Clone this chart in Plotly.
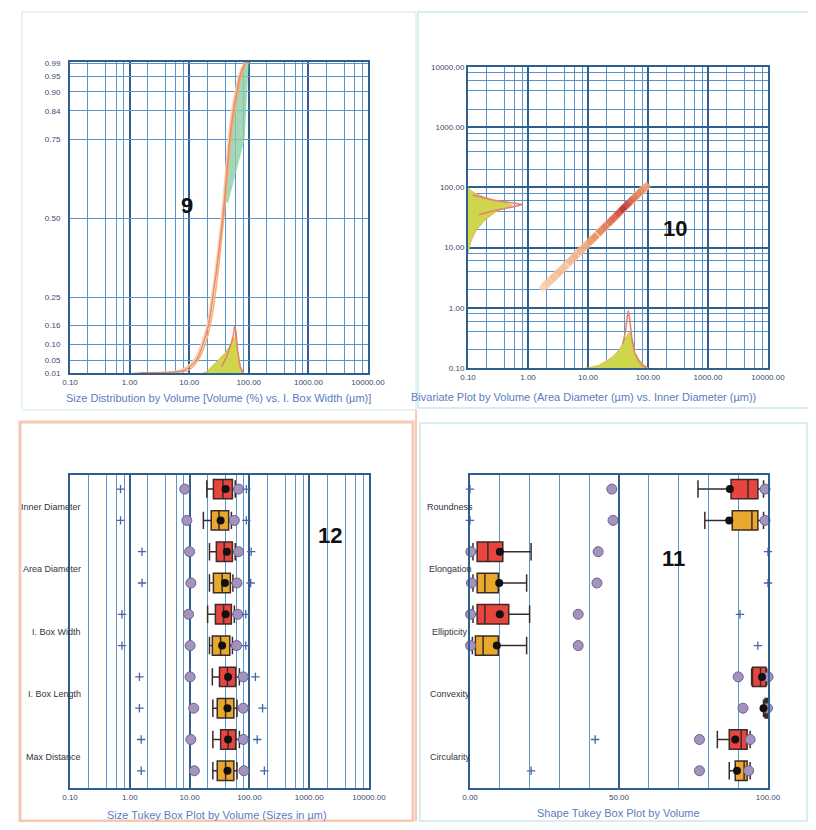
import plotly.graph_objects as go

# The page body keeps its default 8px margin, so an 800x814 figure fills the 816x830 window exactly.
PAGE_W, PAGE_H = 816, 830
W, H = PAGE_W - 16, PAGE_H - 16
def fx(p): return (p - 8) / W
def fy(p): return 1 - (p - 8) / H

FONT = "Liberation Sans, Arial, sans-serif"
NAVY = "#2f5f8f"
GRID = "#5d95c6"
TICKC = "#3a4a6c"
TITLEC = "#5a7cc0"

# ---------------- Panel 9 : cumulative size distribution ----------------
d_levels = [0.01, 0.05, 0.10, 0.16, 0.25, 0.50, 0.75, 0.84, 0.90, 0.95, 0.99, 0.995]
d_labels = ["0.01", "0.05", "0.10", "0.16", "0.25", "0.50", "0.75", "0.84", "0.90", "0.95", "0.99", ""]
cum_frac = [0.011, 0.012, 0.02, 0.05, 0.10, 0.16, 0.25, 0.50, 0.75, 0.84, 0.90, 0.95, 0.99, 0.995]
cum_size_a = [1.5, 5, 8.5, 13, 17, 21, 25, 36.5, 48, 55, 63, 71, 87, 95]
cum_size_b = [2.0, 6, 10, 14, 18.5, 22.5, 27, 38, 50, 58, 66, 75, 90, 98]
cum_size_c = [1.2, 4, 7.5, 12, 16, 20, 24, 35, 46, 52, 60, 68, 84, 92]
band_frac = [0.55, 0.65, 0.75, 0.84, 0.90, 0.95, 0.995]
band_left = [39, 44, 48, 55, 63, 71, 92]
band_right = [45, 62, 85, 90, 94, 97, 100]
hist_size = [10, 15, 20, 27, 33, 40, 46, 52, 56, 60, 65, 71, 80, 92]
hist_vol = [0.0, 0.005, 0.015, 0.04, 0.055, 0.073, 0.09, 0.11, 0.12, 0.125, 0.07, 0.025, 0.01, 0.0]
spike_size = [35, 42, 50, 55, 58, 61, 65, 72, 85]
spike_vol = [0.03, 0.06, 0.10, 0.13, 0.16, 0.14, 0.08, 0.03, 0.0]

# ---------------- Panel 10 : bivariate ----------------
biv_area = [1.8, 2.2, 2.7, 3.3, 4.0, 5.0, 6.0, 7.5, 9, 11, 13, 16, 19, 23, 27, 32, 38, 45, 52, 60, 70, 82, 95]
biv_inner = [2.2, 2.6, 3.2, 3.9, 4.7, 5.9, 7.1, 8.8, 10.5, 12.8, 15, 18.5, 22, 26.5, 31, 37, 44, 52, 60, 68, 79, 92, 104]
biv_dens = [0.1, 0.15, 0.2, 0.25, 0.2, 0.25, 0.3, 0.3, 0.35, 0.45, 0.5, 0.55, 0.6, 0.65, 0.7, 0.8, 0.95, 0.85, 0.7, 0.6, 0.55, 0.5, 0.4]
margy_inner = [8, 10, 12, 15, 20, 25, 30, 35, 40, 45, 50, 55, 60, 70, 80, 90, 100]
margy_vol = [0.1, 0.105, 0.11, 0.12, 0.14, 0.17, 0.2, 0.25, 0.3, 0.4, 0.55, 0.45, 0.3, 0.18, 0.13, 0.11, 0.1]
margy_spk_inner = [35, 42, 48, 52, 56, 62, 75]
margy_spk_vol = [0.15, 0.3, 0.6, 0.8, 0.5, 0.25, 0.12]
margx_area = [9, 10, 12, 15, 20, 25, 30, 35, 40, 45, 50, 55, 60, 70, 80, 90, 100]
margx_vol = [0.1, 0.1, 0.105, 0.11, 0.13, 0.15, 0.18, 0.22, 0.28, 0.35, 0.4, 0.3, 0.18, 0.14, 0.12, 0.11, 0.1]
margx_spk_area = [38, 42, 45, 47, 50, 54, 60, 70, 80, 95]
margx_spk_vol = [0.25, 0.4, 0.7, 0.9, 0.6, 0.3, 0.18, 0.13, 0.11, 0.1]

# ---------------- Panel 12 : size box plots ----------------
size_cats = ["Inner Diameter", "Area Diameter", "I. Box Width", "I. Box Length", "Max Distance"]
s_red_q1 = [25, 28, 27, 31.6, 33]
s_red_med = [36, 38, 37, 43, 44]
s_red_q3 = [52, 52, 50, 59, 59]
s_red_lo = [19.4, 21.5, 20, 24, 24.5]
s_red_hi = [58, 58, 56, 68, 68]
s_red_mean = [40, 42, 40, 44, 44]
s_red_p05 = [8.3, 10, 9.6, 10.2, 10.5]
s_red_p95 = [66, 66, 64, 79, 79]
s_red_p99 = [89, 107, 87, 126, 135]
s_red_min = [0.7, 1.6, 0.74, 1.45, 1.55]
s_org_q1 = [23, 25, 24, 29, 29]
s_org_med = [31, 35, 33, 40, 40]
s_org_q3 = [45, 48, 47, 55, 55]
s_org_lo = [17, 21.5, 21.5, 24.5, 24.5]
s_org_hi = [50, 53, 52, 62, 62]
s_org_mean = [33, 39, 35, 43, 43]
s_org_p05 = [9, 10.5, 10.2, 11.7, 12]
s_org_p95 = [56, 62, 61, 79, 81]
s_org_p99 = [89, 105, 87, 166, 178]
s_org_min = [0.7, 1.6, 0.74, 1.45, 1.55]
s_far_vals = [42000, 29500]
s_far_rows = [4, 5]

# ---------------- Panel 11 : shape box plots ----------------
shape_cats = ["Roundness", "Elongation", "Ellipticity", "Convexity", "Circularity"]
h_red_q1 = [87.6, 2.4, 2.4, 94.8, 87]
h_red_med = [93.3, 6, 5, 97.5, 91]
h_red_q3 = [96.6, 11, 13, 99.3, 93]
h_red_lo = [76.5, 1.0, 1.0, 94.5, 83]
h_red_hi = [98.5, 20.5, 20, 99.6, 94]
h_red_mean = [87.2, 10, 10, 98, 89]
h_red_p05 = [47.6, 0.3, 0.2, 90.0, 77]
h_red_p95 = [99, 43, 36.3, 100, 94]
h_red_ext = [0, 100, 90.6, None, 42]
h_org_q1 = [88, 2.4, 1.8, 99.0, 89]
h_org_med = [94.6, 5, 4.4, 99.5, 92]
h_org_q3 = [96.6, 9.5, 9.5, 99.8, 93]
h_org_lo = [78.8, 1.0, 0.8, 98.5, 87]
h_org_hi = [98.5, 19, 19, 100, 94]
h_org_mean = [87, 9.8, 9, 98.5, 89.6]
h_org_p05 = [48, 0.5, 0.2, 91.6, 77]
h_org_p95 = [99, 42.6, 36.3, 99.8, 93.5]
h_org_ext = [0, 100, 96.6, None, 20.5]

red_rows = [0, 2, 4, 6, 8]
org_rows = [1, 3, 5, 7, 9]

fig = go.Figure()

# ---- panel 9 traces
fig.add_trace(go.Scatter(x=band_left + band_right[::-1], y=band_frac + band_frac[::-1], fill="toself",
                         fillcolor="rgba(140,205,165,0.8)", line=dict(width=0), mode="lines",
                         xaxis="x", yaxis="y", hoverinfo="skip"))
fig.add_trace(go.Scatter(x=hist_size, y=hist_vol, fill="tozeroy", fillcolor="#cdd64c",
                         line=dict(color="#e4b050", width=1), mode="lines", xaxis="x", yaxis="y"))
fig.add_trace(go.Scatter(x=spike_size, y=spike_vol, line=dict(color="#e8806a", width=1.5),
                         mode="lines", xaxis="x", yaxis="y"))
for xs, col, w in [(cum_size_c, "#f8cfb0", 2), (cum_size_b, "#f3b070", 1.5), (cum_size_a, "#ec8a6a", 1.5)]:
    fig.add_trace(go.Scatter(x=xs, y=cum_frac, mode="lines", line=dict(color=col, width=w, shape="spline"),
                             xaxis="x", yaxis="y"))

# ---- panel 10 traces
fig.add_trace(go.Scatter(x=margy_vol, y=margy_inner, fill="toself", fillcolor="#cdd64c",
                         line=dict(color="#e9b060", width=1), mode="lines", xaxis="x2", yaxis="y2"))
fig.add_trace(go.Scatter(x=margy_spk_vol, y=margy_spk_inner, mode="lines",
                         line=dict(color="#e8806a", width=1.5), xaxis="x2", yaxis="y2"))
fig.add_trace(go.Scatter(x=margx_area, y=margx_vol, fill="toself", fillcolor="#cdd64c",
                         line=dict(color="#e9b060", width=1), mode="lines", xaxis="x2", yaxis="y2"))
fig.add_trace(go.Scatter(x=margx_spk_area, y=margx_spk_vol, mode="lines",
                         line=dict(color="#e8806a", width=1.5), xaxis="x2", yaxis="y2"))
fig.add_trace(go.Scatter(x=biv_area, y=biv_inner, mode="lines",
                         line=dict(color="rgba(246,196,160,0.7)", width=8), xaxis="x2", yaxis="y2"))
fig.add_trace(go.Scatter(x=biv_area, y=biv_inner, mode="markers",
                         marker=dict(symbol="diamond", size=7, color=biv_dens, cmin=0, cmax=1,
                                     colorscale=[[0, "#fbe2c6"], [0.45, "#ee9a66"], [1, "#b81f2a"]],
                                     opacity=0.9, line=dict(width=0)),
                         xaxis="x2", yaxis="y2"))

# ---- box helper
def add_boxes(xa, ya, rows, q1, med, q3, lo, hi, fill):
    fig.add_trace(go.Box(y=rows, q1=q1, median=med, q3=q3, lowerfence=lo, upperfence=hi,
                         orientation="h", fillcolor=fill, line=dict(color="#3a2a28", width=1.5),
                         whiskerwidth=0.9, width=0.62, boxpoints=False, xaxis=xa, yaxis=ya,
                         hoverinfo="skip"))

def add_marks(xa, ya, rows, vals, kind):
    pts = [(v, r) for v, r in zip(vals, rows) if v is not None]
    xs = [p[0] for p in pts]
    ys = [p[1] for p in pts]
    if kind == "circle":
        mk = dict(symbol="circle", size=10, color="#a394bd", line=dict(color="#6f6090", width=1))
    elif kind == "mean":
        mk = dict(symbol="circle", size=8, color="#111111")
    else:
        mk = dict(symbol="cross-thin", size=6, line=dict(color="#4a64a8", width=1.3))
    fig.add_trace(go.Scatter(x=xs, y=ys, mode="markers", marker=mk, xaxis=xa, yaxis=ya,
                             cliponaxis=False, hoverinfo="skip"))

# ---- panel 12
add_boxes("x3", "y3", red_rows, s_red_q1, s_red_med, s_red_q3, s_red_lo, s_red_hi, "#e8453f")
add_boxes("x3", "y3", org_rows, s_org_q1, s_org_med, s_org_q3, s_org_lo, s_org_hi, "#e8a82e")
add_marks("x3", "y3", red_rows + org_rows, s_red_p05 + s_org_p05, "circle")
add_marks("x3", "y3", red_rows + org_rows, s_red_p95 + s_org_p95, "circle")
add_marks("x3", "y3", red_rows + org_rows, s_red_mean + s_org_mean, "mean")
add_marks("x3", "y3", red_rows + org_rows, s_red_p99 + s_org_p99, "plus")
add_marks("x3", "y3", red_rows + org_rows, s_red_min + s_org_min, "plus")
add_marks("x3", "y3", s_far_rows, s_far_vals, "plus")

# ---- panel 11
add_boxes("x4", "y4", red_rows, h_red_q1, h_red_med, h_red_q3, h_red_lo, h_red_hi, "#e8453f")
add_boxes("x4", "y4", org_rows, h_org_q1, h_org_med, h_org_q3, h_org_lo, h_org_hi, "#e8a82e")
add_marks("x4", "y4", red_rows + org_rows, h_red_p05 + h_org_p05, "circle")
add_marks("x4", "y4", red_rows + org_rows, h_red_p95 + h_org_p95, "circle")
add_marks("x4", "y4", red_rows + org_rows, h_red_mean + h_org_mean, "mean")
add_marks("x4", "y4", red_rows + org_rows, h_red_ext + h_org_ext, "plus")

# ---- axes
decades = [0.1, 1, 10, 100, 1000, 10000]
decade_txt = ["0.10", "1.00", "10.00", "100.00", "1000.00", "10000.00"]
log_minor = [m * d for d in [0.1, 1, 10, 100, 1000] for m in (2, 4, 6, 8)]
tickfont = dict(family=FONT, size=8, color=TICKC)

def log_axis(domain, anchor, grid=True):
    return dict(type="log", range=[-1, 4], domain=domain, anchor=anchor, automargin=False,
                tickmode="array", tickvals=decades, ticktext=decade_txt, tickfont=tickfont,
                ticks="", showgrid=True, gridcolor=NAVY, gridwidth=2,
                minor=dict(tickmode="array", tickvals=log_minor, showgrid=grid, gridcolor=GRID, gridwidth=1, ticks=""),
                showline=True, linecolor=NAVY, linewidth=2, mirror=True, zeroline=False)

layout_axes = dict(
    xaxis=log_axis([fx(70), fx(368)], "y"),
    yaxis=dict(type="linear", range=[0.01, 0.995], domain=[fy(373), fy(62)], anchor="x", automargin=False,
               tickmode="array", tickvals=d_levels, ticktext=d_labels, tickfont=tickfont, ticks="",
               ticklabelstandoff=6,
               showgrid=True, gridcolor=GRID, gridwidth=1, showline=True, linecolor=NAVY,
               linewidth=2, mirror=True, zeroline=False),
    xaxis2=log_axis([fx(468), fx(768)], "y2"),
    yaxis2=log_axis([fy(368), fy(67)], "x2"),
    xaxis3=log_axis([fx(70), fx(369)], "y3"),
    yaxis3=dict(type="linear", range=[9.55, -0.45], domain=[fy(788), fy(475)], anchor="x3", automargin=False,
                showticklabels=False, ticks="", showgrid=False, showline=True, linecolor=NAVY,
                linewidth=2, mirror=True, zeroline=False),
    xaxis4=dict(type="linear", range=[0, 100], domain=[fx(470), fx(768)], anchor="y4", automargin=False,
                tickmode="array", tickvals=[0, 50, 100], ticktext=["0.00", "50.00", "100.00"],
                tickfont=tickfont, ticks="", showgrid=True, gridcolor=NAVY, gridwidth=2,
                minor=dict(tickmode="array", tickvals=[10, 20, 30, 40, 60, 70, 80, 90], showgrid=True,
                           gridcolor=GRID, gridwidth=1, ticks=""),
                showline=True, linecolor=NAVY, linewidth=2, mirror=True, zeroline=False),
    yaxis4=dict(type="linear", range=[9.55, -0.45], domain=[fy(788), fy(475)], anchor="x4", automargin=False,
                showticklabels=False, ticks="", showgrid=False, showline=True, linecolor=NAVY,
                linewidth=2, mirror=True, zeroline=False),
)

annotations = []
def ann(text, x, y, size=11, color=TITLEC, xanchor="center", bold=False):
    annotations.append(dict(text=("<b>%s</b>" % text) if bold else text, x=fx(x), y=fy(y),
                            xref="paper", yref="paper", showarrow=False, xanchor=xanchor, yanchor="middle",
                            font=dict(family=FONT, size=size, color=color)))

ann("Size Distribution by Volume [Volume (%) vs. I. Box Width (µm)]", 218, 398)
ann("Bivariate Plot by Volume (Area Diameter (µm) vs. Inner Diameter (µm))", 409, 397, xanchor="left")
ann("Size Tukey Box Plot by Volume (Sizes in µm)", 217, 815)
ann("Shape Tukey Box Plot by Volume", 618, 813)
ann("9", 187, 205, size=22, color="#111111", bold=True)
ann("10", 675, 228, size=22, color="#111111", bold=True)
ann("12", 330, 535, size=22, color="#111111", bold=True)
ann("11", 673, 558, size=22, color="#111111", bold=True)
row_px = [507, 569, 632, 694, 757]
for lab, yy in zip(size_cats, row_px):
    ann(lab, 83, yy, size=9, color="#333344", xanchor="right")
for lab, yy in zip(shape_cats, row_px):
    ann(lab, 450, yy, size=9, color="#333344")

def rect(x0, y0, x1, y1, color, w):
    return dict(type="rect", xref="paper", yref="paper", x0=fx(x0), x1=fx(x1), y0=fy(y1), y1=fy(y0),
                line=dict(color=color, width=w), fillcolor="rgba(0,0,0,0)", layer="below")

shapes = [
    rect(22, 12, 416, 410, "#cde9e6", 1),
    rect(418, 12, 813, 408, "#cde9e6", 1.5),
    rect(20, 422, 413, 821, "#f6c9b4", 3),
    rect(420, 423, 807, 821, "#cde9e6", 1.5),
    dict(type="line", xref="paper", yref="paper", x0=fx(416), x1=fx(416), y0=fy(410), y1=fy(821),
         line=dict(color="#f6c9b4", width=2)),
]

fig.update_layout(width=W, height=H, margin=dict(l=0, r=0, t=0, b=0),
                  paper_bgcolor="white", plot_bgcolor="white", showlegend=False,
                  boxmode="overlay", annotations=annotations, shapes=shapes,
                  font=dict(family=FONT), **layout_axes)

fig.write_html("out.html", config={"displayModeBar": False})
